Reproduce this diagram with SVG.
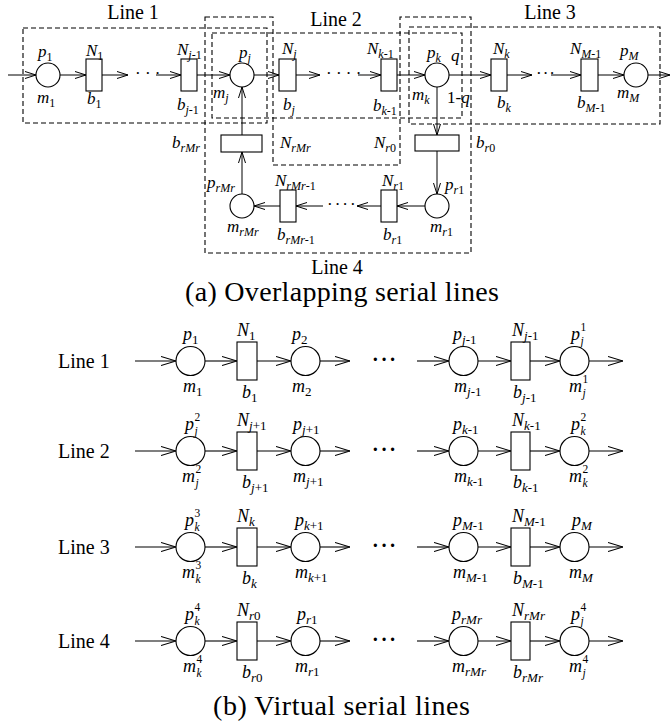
<svg xmlns="http://www.w3.org/2000/svg" width="671" height="725" viewBox="0 0 671 725">
<defs>
<style>
.t{font-family:"Liberation Serif","Times New Roman",serif;fill:#000}
.v{font-style:italic}
.a{font-size:17px}
.b{font-size:18px}
.s{font-size:12px}
.sb{font-size:13px}
.ss{font-size:11.5px}
.n{font-style:normal}
.ln{font-size:20px}
.cap{font-size:28px}
.dot{font-size:17px}
.dotb{font-size:20px;font-weight:bold;letter-spacing:2px}
.c{fill:#fff;stroke:#000;stroke-width:1.1}
.r{fill:#fff;stroke:#000;stroke-width:1.1}
.w{stroke:#000;stroke-width:1;fill:none}
.wa{stroke:#000;stroke-width:1;fill:none;marker-end:url(#ah)}
.wb{stroke:#000;stroke-width:1.1;fill:none;marker-end:url(#ahb)}
.d{fill:none;stroke:#000;stroke-width:1.1;stroke-dasharray:5 3}
</style>
<marker id="ah" viewBox="0 0 11 8" refX="11" refY="4" markerWidth="11" markerHeight="8" markerUnits="userSpaceOnUse" orient="auto"><path d="M0,0.5 L11,4 L0,7.5" fill="none" stroke="#000" stroke-width="1"/></marker>
<marker id="ahb" viewBox="0 0 15 10" refX="15" refY="5" markerWidth="15" markerHeight="10" markerUnits="userSpaceOnUse" orient="auto"><path d="M0,0.5 L15,5 L0,9.5" fill="none" stroke="#000" stroke-width="1.1"/></marker>
</defs>
<rect width="671" height="725" fill="#fff"/>

<!-- (a) dashed line groupings -->
<g id="line1-box"><rect class="d" x="23" y="28" width="244" height="95"/><text class="t ln" x="133" y="19" text-anchor="middle">Line 1</text></g>
<g id="line2-box"><rect class="d" x="212" y="33" width="250" height="85"/><text class="t ln" x="336" y="26" text-anchor="middle">Line 2</text></g>
<g id="line3-box"><rect class="d" x="409" y="27" width="251" height="97"/><text class="t ln" x="550" y="19" text-anchor="middle">Line 3</text></g>
<g id="line4-box"><path class="d" d="M205,17 H273 V165 H400 V17 H471 V253 H205 Z"/><text class="t ln" x="337" y="274" text-anchor="middle">Line 4</text></g>

<!-- connectors -->
<g id="connectors">
<line class="wa" x1="8" y1="75" x2="36" y2="75"/>
<line class="wa" x1="60" y1="75" x2="86" y2="75"/>
<line class="wa" x1="102" y1="75" x2="128" y2="75"/>
<line class="wa" x1="156" y1="75" x2="181" y2="75"/>
<line class="wa" x1="197" y1="75" x2="230" y2="75"/>
<line class="wa" x1="254" y1="75" x2="279" y2="75"/>
<line class="wa" x1="296" y1="75" x2="320" y2="75"/>
<line class="wa" x1="358" y1="75" x2="381" y2="75"/>
<line class="wa" x1="397" y1="75" x2="425" y2="75"/>
<line class="wa" x1="449" y1="75" x2="491" y2="75"/>
<line class="wa" x1="507" y1="75" x2="532" y2="75"/>
<line class="wa" x1="551" y1="75" x2="581" y2="75"/>
<line class="wa" x1="598" y1="75" x2="624" y2="75"/>
<line class="wa" x1="648" y1="75" x2="670" y2="75"/>
<line class="wa" x1="437" y1="87" x2="437" y2="135"/>
<line class="wa" x1="437" y1="151" x2="437" y2="194"/>
<line class="wa" x1="425" y1="206" x2="397" y2="206"/>
<line class="wa" x1="381" y1="206" x2="357" y2="206"/>
<line class="wa" x1="323" y1="206" x2="296" y2="206"/>
<line class="wa" x1="280" y1="206" x2="254" y2="206"/>
<line class="wa" x1="242" y1="194" x2="242" y2="152"/>
<line class="wa" x1="242" y1="135" x2="242" y2="87"/>
<text class="t dot" x="135" y="79">· · ·</text>
<text class="t dot" x="326" y="79">· · · ·</text>
<text class="t dot" x="536" y="79" letter-spacing="1">···</text>
<text class="t dot" x="327" y="210" letter-spacing="2">····</text>

<line class="wb" x1="135" y1="361" x2="176" y2="361"/>
<line class="wb" x1="205" y1="361" x2="237" y2="361"/>
<line class="wb" x1="257" y1="361" x2="291" y2="361"/>
<line class="wb" x1="320" y1="361" x2="350" y2="361"/>
<line class="wb" x1="417" y1="361" x2="449" y2="361"/>
<line class="wb" x1="478" y1="361" x2="511" y2="361"/>
<line class="wb" x1="530" y1="361" x2="560" y2="361"/>
<line class="wb" x1="589" y1="361" x2="623" y2="361"/>
<text class="t dotb" x="372" y="366">···</text>

<line class="wb" x1="135" y1="451" x2="176" y2="451"/>
<line class="wb" x1="205" y1="451" x2="237" y2="451"/>
<line class="wb" x1="257" y1="451" x2="291" y2="451"/>
<line class="wb" x1="320" y1="451" x2="350" y2="451"/>
<line class="wb" x1="417" y1="451" x2="449" y2="451"/>
<line class="wb" x1="478" y1="451" x2="511" y2="451"/>
<line class="wb" x1="530" y1="451" x2="560" y2="451"/>
<line class="wb" x1="589" y1="451" x2="623" y2="451"/>
<text class="t dotb" x="372" y="456">···</text>

<line class="wb" x1="135" y1="547" x2="176" y2="547"/>
<line class="wb" x1="205" y1="547" x2="237" y2="547"/>
<line class="wb" x1="257" y1="547" x2="291" y2="547"/>
<line class="wb" x1="320" y1="547" x2="350" y2="547"/>
<line class="wb" x1="417" y1="547" x2="449" y2="547"/>
<line class="wb" x1="478" y1="547" x2="511" y2="547"/>
<line class="wb" x1="530" y1="547" x2="560" y2="547"/>
<line class="wb" x1="589" y1="547" x2="623" y2="547"/>
<text class="t dotb" x="372" y="552">···</text>

<line class="wb" x1="135" y1="641" x2="176" y2="641"/>
<line class="wb" x1="205" y1="641" x2="237" y2="641"/>
<line class="wb" x1="257" y1="641" x2="291" y2="641"/>
<line class="wb" x1="320" y1="641" x2="350" y2="641"/>
<line class="wb" x1="417" y1="641" x2="449" y2="641"/>
<line class="wb" x1="478" y1="641" x2="511" y2="641"/>
<line class="wb" x1="530" y1="641" x2="560" y2="641"/>
<line class="wb" x1="589" y1="641" x2="623" y2="641"/>
<text class="t dotb" x="372" y="646">···</text>
</g>

<!-- (a) nodes -->
<g id="a-m1"><circle class="c" cx="48" cy="75" r="12"/><text class="t v a" x="38" y="57">p<tspan class="s n" dy="3.5">1</tspan></text><text class="t v a" x="37" y="103">m<tspan class="s n" dy="3.5">1</tspan></text></g>
<g id="a-b1"><rect class="r" x="86" y="59" width="16" height="32"/><text class="t v a" x="86" y="56">N<tspan class="s n" dy="3.5">1</tspan></text><text class="t v a" x="87" y="104">b<tspan class="s n" dy="3.5">1</tspan></text></g>
<g id="a-bj-1"><rect class="r" x="181" y="59" width="16" height="32"/><text class="t v a" x="177" y="55">N<tspan class="s" dy="3.5">j<tspan class="n">-1</tspan></tspan></text><text class="t v a" x="177" y="110">b<tspan class="s" dy="3.5">j<tspan class="n">-1</tspan></tspan></text></g>
<g id="a-mj"><circle class="c" cx="242" cy="75" r="12"/><text class="t v a" x="239" y="58">p<tspan class="s" dy="3.5">j</tspan></text><text class="t v a" x="213" y="98">m<tspan class="s" dy="3.5">j</tspan></text></g>
<g id="a-bj"><rect class="r" x="279" y="59" width="17" height="32"/><text class="t v a" x="282" y="54">N<tspan class="s" dy="3.5">j</tspan></text><text class="t v a" x="283" y="110">b<tspan class="s" dy="3.5">j</tspan></text></g>
<g id="a-bk-1"><rect class="r" x="381" y="59" width="16" height="32"/><text class="t v a" x="367" y="54">N<tspan class="s" dy="3.5">k<tspan class="n">-1</tspan></tspan></text><text class="t v a" x="373" y="111">b<tspan class="s" dy="3.5">k<tspan class="n">-1</tspan></tspan></text></g>
<g id="a-mk"><circle class="c" cx="437" cy="75" r="12"/><text class="t v a" x="427" y="58">p<tspan class="s" dy="3.5">k</tspan></text><text class="t v a" x="412" y="100">m<tspan class="s" dy="3.5">k</tspan></text><text class="t v a" x="451" y="61">q</text><text class="t a" x="447" y="103">1-<tspan class="v">q</tspan></text></g>
<g id="a-bk"><rect class="r" x="491" y="59" width="16" height="32"/><text class="t v a" x="493" y="54">N<tspan class="s" dy="3.5">k</tspan></text><text class="t v a" x="497" y="108">b<tspan class="s" dy="3.5">k</tspan></text></g>
<g id="a-bM-1"><rect class="r" x="581" y="59" width="17" height="32"/><text class="t v a" x="570" y="54">N<tspan class="s" dy="3.5">M<tspan class="n">-1</tspan></tspan></text><text class="t v a" x="577" y="108">b<tspan class="s" dy="3.5">M<tspan class="n">-1</tspan></tspan></text></g>
<g id="a-mM"><circle class="c" cx="636" cy="75" r="12"/><text class="t v a" x="620" y="56">p<tspan class="s" dy="3.5">M</tspan></text><text class="t v a" x="617" y="98">m<tspan class="s" dy="3.5">M</tspan></text></g>
<g id="a-brMr"><rect class="r" x="221" y="135" width="41" height="17"/><text class="t v a" x="172" y="148">b<tspan class="s" dy="3.5">rMr</tspan></text><text class="t v a" x="280" y="148">N<tspan class="s" dy="3.5">rMr</tspan></text></g>
<g id="a-br0"><rect class="r" x="415" y="135" width="44" height="16"/><text class="t v a" x="374" y="148">N<tspan class="s" dy="3.5">r<tspan class="n">0</tspan></tspan></text><text class="t v a" x="476" y="148">b<tspan class="s" dy="3.5">r<tspan class="n">0</tspan></tspan></text></g>
<g id="a-mr1"><circle class="c" cx="437" cy="206" r="12"/><text class="t v a" x="445" y="190">p<tspan class="s" dy="3.5">r<tspan class="n">1</tspan></tspan></text><text class="t v a" x="430" y="232">m<tspan class="s" dy="3.5">r<tspan class="n">1</tspan></tspan></text></g>
<g id="a-br1"><rect class="r" x="381" y="190" width="16" height="32"/><text class="t v a" x="382" y="186">N<tspan class="s" dy="3.5">r<tspan class="n">1</tspan></tspan></text><text class="t v a" x="383" y="240">b<tspan class="s" dy="3.5">r<tspan class="n">1</tspan></tspan></text></g>
<g id="a-brMr-1"><rect class="r" x="280" y="190" width="16" height="32"/><text class="t v a" x="275" y="186">N<tspan class="s" dy="3.5">rMr<tspan class="n">-1</tspan></tspan></text><text class="t v a" x="277" y="240">b<tspan class="s" dy="3.5">rMr<tspan class="n">-1</tspan></tspan></text></g>
<g id="a-mrMr"><circle class="c" cx="242" cy="206" r="12"/><text class="t v a" x="207" y="188">p<tspan class="s" dy="3.5">rMr</tspan></text><text class="t v a" x="227" y="232">m<tspan class="s" dy="3.5">rMr</tspan></text></g>

<text id="cap-a" class="t cap" x="185" y="301" textLength="314" lengthAdjust="spacing">(a) Overlapping serial lines</text>

<!-- (b) virtual lines -->
<g id="b-line1-label"><text class="t ln" x="58" y="368">Line 1</text></g>
<g id="b-line2-label"><text class="t ln" x="58" y="458">Line 2</text></g>
<g id="b-line3-label"><text class="t ln" x="58" y="554">Line 3</text></g>
<g id="b-line4-label"><text class="t ln" x="58" y="648">Line 4</text></g>

<!-- row 1 -->
<g id="b1-m1"><circle class="c" cx="190.5" cy="361" r="14.5"/><text class="t v b" x="183" y="340">p<tspan class="sb n" dy="4">1</tspan></text><text class="t v b" x="183" y="392">m<tspan class="sb n" dy="4">1</tspan></text></g>
<g id="b1-b1"><rect class="r" x="237" y="342" width="20" height="38"/><text class="t v b" x="237" y="336">N<tspan class="sb n" dy="4">1</tspan></text><text class="t v b" x="242" y="398">b<tspan class="sb n" dy="4">1</tspan></text></g>
<g id="b1-m2"><circle class="c" cx="305.5" cy="361" r="14.5"/><text class="t v b" x="292" y="340">p<tspan class="sb n" dy="4">2</tspan></text><text class="t v b" x="292" y="392">m<tspan class="sb n" dy="4">2</tspan></text></g>
<g id="b1-mj-1"><circle class="c" cx="463.5" cy="361" r="14.5"/><text class="t v b" x="453" y="340">p<tspan class="sb" dy="4">j<tspan class="n">-1</tspan></tspan></text><text class="t v b" x="454" y="392">m<tspan class="sb" dy="4">j<tspan class="n">-1</tspan></tspan></text></g>
<g id="b1-bj-1"><rect class="r" x="511" y="342" width="19" height="38"/><text class="t v b" x="512" y="336">N<tspan class="sb" dy="4">j<tspan class="n">-1</tspan></tspan></text><text class="t v b" x="513" y="398">b<tspan class="sb" dy="4">j<tspan class="n">-1</tspan></tspan></text></g>
<g id="b1-mj"><circle class="c" cx="574.5" cy="361" r="14.5"/><text class="t v b" x="571" y="340">p<tspan class="ss n" x="580.5" dy="-9">1</tspan><tspan class="ss" x="580.5" dy="14">j</tspan></text><text class="t v b" x="569" y="392">m<tspan class="ss n" x="582.5" dy="-9">1</tspan><tspan class="ss" x="582.5" dy="14">j</tspan></text></g>

<!-- row 2 -->
<g id="b2-mj"><circle class="c" cx="190.5" cy="451" r="14.5"/><text class="t v b" x="185" y="430">p<tspan class="ss n" x="194.5" dy="-9">2</tspan><tspan class="ss" x="194.5" dy="14">j</tspan></text><text class="t v b" x="182" y="482">m<tspan class="ss n" x="195.5" dy="-9">2</tspan><tspan class="ss" x="195.5" dy="14">j</tspan></text></g>
<g id="b2-bj+1"><rect class="r" x="237" y="432" width="20" height="38"/><text class="t v b" x="237" y="426">N<tspan class="sb" dy="4">j<tspan class="n">+1</tspan></tspan></text><text class="t v b" x="242" y="488">b<tspan class="sb" dy="4">j<tspan class="n">+1</tspan></tspan></text></g>
<g id="b2-mj+1"><circle class="c" cx="305.5" cy="451" r="14.5"/><text class="t v b" x="293" y="430">p<tspan class="sb" dy="4">j<tspan class="n">+1</tspan></tspan></text><text class="t v b" x="293" y="482">m<tspan class="sb" dy="4">j<tspan class="n">+1</tspan></tspan></text></g>
<g id="b2-mk-1"><circle class="c" cx="463.5" cy="451" r="14.5"/><text class="t v b" x="453" y="430">p<tspan class="sb" dy="4">k<tspan class="n">-1</tspan></tspan></text><text class="t v b" x="454" y="482">m<tspan class="sb" dy="4">k<tspan class="n">-1</tspan></tspan></text></g>
<g id="b2-bk-1"><rect class="r" x="511" y="432" width="19" height="38"/><text class="t v b" x="512" y="426">N<tspan class="sb" dy="4">k<tspan class="n">-1</tspan></tspan></text><text class="t v b" x="513" y="488">b<tspan class="sb" dy="4">k<tspan class="n">-1</tspan></tspan></text></g>
<g id="b2-mk"><circle class="c" cx="574.5" cy="451" r="14.5"/><text class="t v b" x="571" y="430">p<tspan class="ss n" x="580.5" dy="-9">2</tspan><tspan class="ss" x="580.5" dy="14">k</tspan></text><text class="t v b" x="569" y="482">m<tspan class="ss n" x="582.5" dy="-9">2</tspan><tspan class="ss" x="582.5" dy="14">k</tspan></text></g>

<!-- row 3 -->
<g id="b3-mk"><circle class="c" cx="190.5" cy="547" r="14.5"/><text class="t v b" x="185" y="526">p<tspan class="ss n" x="194.5" dy="-9">3</tspan><tspan class="ss" x="194.5" dy="14">k</tspan></text><text class="t v b" x="182" y="578">m<tspan class="ss n" x="195.5" dy="-9">3</tspan><tspan class="ss" x="195.5" dy="14">k</tspan></text></g>
<g id="b3-bk"><rect class="r" x="237" y="528" width="20" height="38"/><text class="t v b" x="237" y="522">N<tspan class="sb" dy="4">k</tspan></text><text class="t v b" x="242" y="584">b<tspan class="sb" dy="4">k</tspan></text></g>
<g id="b3-mk+1"><circle class="c" cx="305.5" cy="547" r="14.5"/><text class="t v b" x="295" y="526">p<tspan class="sb" dy="4">k<tspan class="n">+1</tspan></tspan></text><text class="t v b" x="295" y="578">m<tspan class="sb" dy="4">k<tspan class="n">+1</tspan></tspan></text></g>
<g id="b3-mM-1"><circle class="c" cx="463.5" cy="547" r="14.5"/><text class="t v b" x="453" y="526">p<tspan class="sb" dy="4">M<tspan class="n">-1</tspan></tspan></text><text class="t v b" x="453" y="578">m<tspan class="sb" dy="4">M<tspan class="n">-1</tspan></tspan></text></g>
<g id="b3-bM-1"><rect class="r" x="511" y="528" width="19" height="38"/><text class="t v b" x="512" y="522">N<tspan class="sb" dy="4">M<tspan class="n">-1</tspan></tspan></text><text class="t v b" x="513" y="584">b<tspan class="sb" dy="4">M<tspan class="n">-1</tspan></tspan></text></g>
<g id="b3-mM"><circle class="c" cx="574.5" cy="547" r="14.5"/><text class="t v b" x="572" y="526">p<tspan class="sb" dy="4">M</tspan></text><text class="t v b" x="569" y="578">m<tspan class="sb" dy="4">M</tspan></text></g>

<!-- row 4 -->
<g id="b4-mk"><circle class="c" cx="190.5" cy="641" r="14.5"/><text class="t v b" x="185" y="620">p<tspan class="ss n" x="194.5" dy="-9">4</tspan><tspan class="ss" x="194.5" dy="14">k</tspan></text><text class="t v b" x="183" y="672">m<tspan class="ss n" x="196.5" dy="-9">4</tspan><tspan class="ss" x="196.5" dy="14">k</tspan></text></g>
<g id="b4-br0"><rect class="r" x="237" y="622" width="20" height="38"/><text class="t v b" x="237" y="616">N<tspan class="sb" dy="4">r<tspan class="n">0</tspan></tspan></text><text class="t v b" x="242" y="678">b<tspan class="sb" dy="4">r<tspan class="n">0</tspan></tspan></text></g>
<g id="b4-mr1"><circle class="c" cx="305.5" cy="641" r="14.5"/><text class="t v b" x="297" y="620">p<tspan class="sb" dy="4">r<tspan class="n">1</tspan></tspan></text><text class="t v b" x="295" y="672">m<tspan class="sb" dy="4">r<tspan class="n">1</tspan></tspan></text></g>
<g id="b4-mrMr"><circle class="c" cx="463.5" cy="641" r="14.5"/><text class="t v b" x="452" y="620">p<tspan class="sb" dy="4">rMr</tspan></text><text class="t v b" x="452" y="672">m<tspan class="sb" dy="4">rMr</tspan></text></g>
<g id="b4-brMr"><rect class="r" x="511" y="622" width="19" height="38"/><text class="t v b" x="512" y="616">N<tspan class="sb" dy="4">rMr</tspan></text><text class="t v b" x="513" y="678">b<tspan class="sb" dy="4">rMr</tspan></text></g>
<g id="b4-mj"><circle class="c" cx="574.5" cy="641" r="14.5"/><text class="t v b" x="571" y="620">p<tspan class="ss n" x="580.5" dy="-9">4</tspan><tspan class="ss" x="580.5" dy="14">j</tspan></text><text class="t v b" x="569" y="672">m<tspan class="ss n" x="582.5" dy="-9">4</tspan><tspan class="ss" x="582.5" dy="14">j</tspan></text></g>

<text id="cap-b" class="t cap" x="213" y="715" textLength="257" lengthAdjust="spacing">(b) Virtual serial lines</text>
</svg>
